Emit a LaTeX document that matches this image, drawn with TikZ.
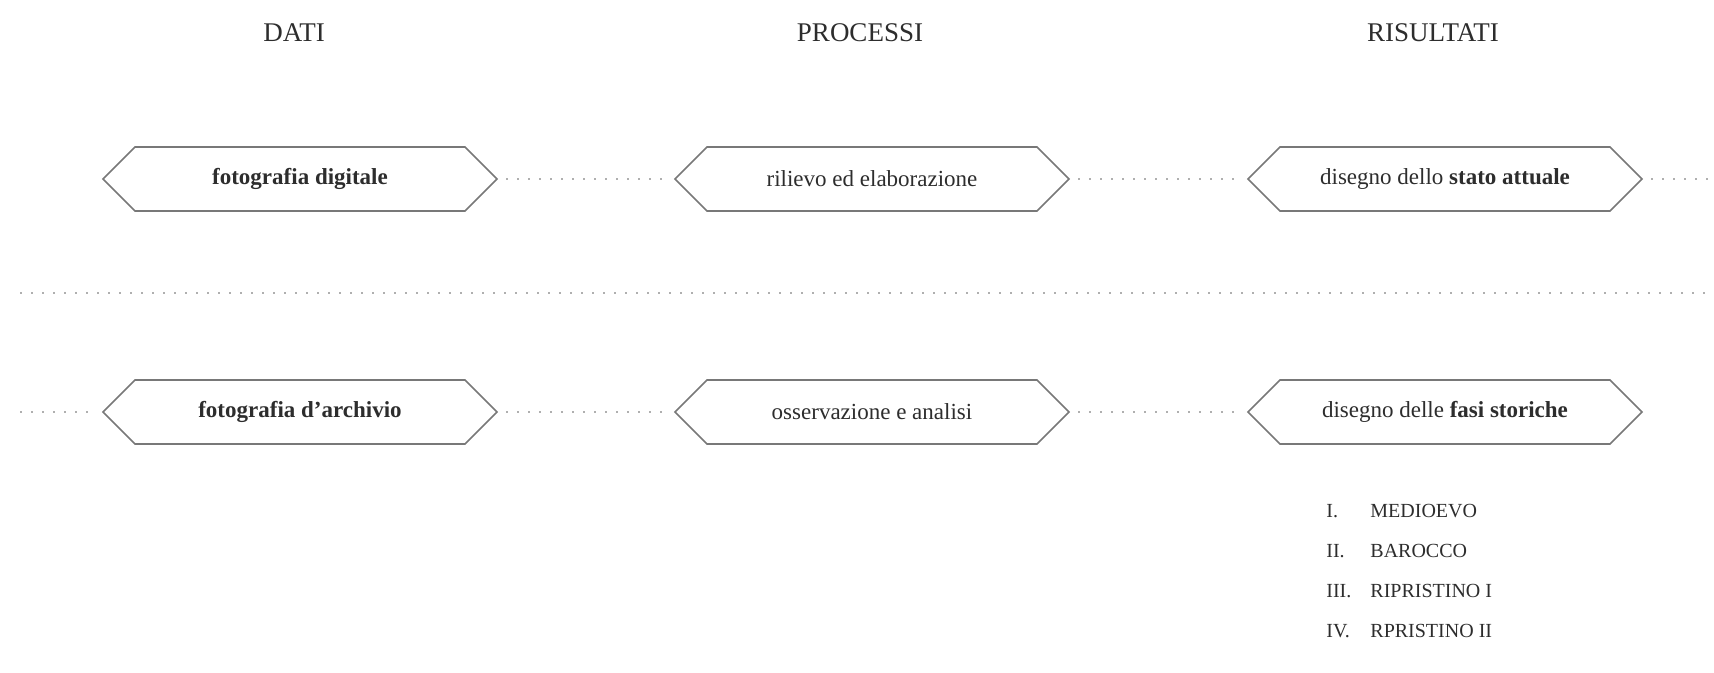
\documentclass[tikz,border=0pt]{standalone}
\usepackage{fontspec}
\setmainfont{Liberation Serif}
\usepackage{tikz}
\usetikzlibrary{shapes,positioning}
\usepackage{xcolor}
\definecolor{boxgray}{RGB}{120,120,120}
\definecolor{dotgray}{RGB}{175,175,175}
\definecolor{inkgray}{RGB}{45,45,45}

\tikzset{
    fase/.style={signal,signal to=west and east,signal pointer angle=90,draw=boxgray,line width=0.8pt,
        fill=white,minimum width=197pt,minimum height=32pt,inner sep=2pt,
        font=\fontsize{11.5}{14}\selectfont,text=inkgray},
    titolo/.style={font=\fontsize{13.5}{16}\selectfont,text=inkgray},
    lista/.style={font=\fontsize{10}{12}\selectfont,text=inkgray,inner sep=0pt},
    puntini/.style={draw=dotgray,line width=1.1pt,dash pattern=on 1.1pt off 4.4pt,shorten <=4pt,shorten >=4pt}
}

\begin{document}
\begin{tikzpicture}[x=0.5pt,y=-0.5pt]
        \useasboundingbox (0,0) rectangle (1714,673);

        % Titoli
        \node[titolo] (dati) at (294,33) {DATI};
        \node[titolo] (processi) at (860,33) {PROCESSI};
        \node[titolo] (risultati) at (1433,33) {RISULTATI};

        % Riga superiore
        \node[fase] (digitale) at (300,179) {\textbf{fotografia digitale}};
        \node[fase] (rilievo) at (872,179) {rilievo ed elaborazione};
        \node[fase] (attuale) at (1445,179) {disegno dello \textbf{stato attuale}};
        \coordinate (finesup) at (1714,179);

        % Riga inferiore
        \coordinate (inizioinf) at (20,412);
        \node[fase] (archivio) at (300,412) {\textbf{fotografia d'archivio}};
        \node[fase] (analisi) at (872,412) {osservazione e analisi};
        \node[fase] (storiche) at (1445,412) {disegno delle \textbf{fasi storiche}};

        % Linea di separazione
        \coordinate (sepsx) at (20,293);
        \coordinate (sepdx) at (1714,293);
        \draw[puntini,shorten <=0pt,shorten >=0pt] (sepsx) -- (sepdx);

        % Collegamenti
        \draw[puntini] (digitale.east) -- (rilievo.west);
        \draw[puntini] (rilievo.east) -- (attuale.west);
        \draw[puntini,shorten >=0pt] (attuale.east) -- (finesup);
        \draw[puntini,shorten <=0pt] (inizioinf) -- (archivio.west);
        \draw[puntini] (archivio.east) -- (analisi.west);
        \draw[puntini] (analisi.east) -- (storiche.west);

        % Fasi storiche
        \foreach \num/\periodo [count=\i] in {I./MEDIOEVO,II./BAROCCO,III./RIPRISTINO I,IV./RPRISTINO II}{
            \node[lista,anchor=west] (num\i) at (1326,471+40*\i) {\num};
            \node[lista,anchor=west] (periodo\i) at (1370,471+40*\i) {\periodo};
        }
    \end{tikzpicture}
\end{document}
